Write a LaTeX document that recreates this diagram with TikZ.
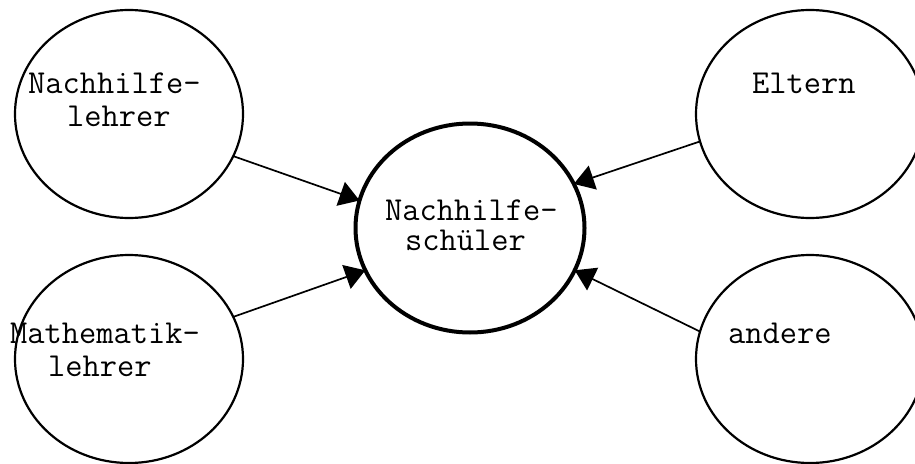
\documentclass[tikz,border=0pt]{standalone}
\usetikzlibrary{shapes.geometric,arrows.meta}
\begin{document}
\begin{tikzpicture}[x=1pt,y=-1pt,
  blob/.style={ellipse,draw,line width=2.2pt,minimum width=228pt,minimum height=208pt,inner sep=0pt,outer sep=0pt},
  hub/.style={blob,line width=4pt,minimum width=229pt,minimum height=209pt},
  word/.style={anchor=base west,inner sep=0pt,text height=21pt,text depth=0pt,font=\ttfamily\fontsize{33.5}{36}\selectfont},
  link/.style={line width=1.7pt,-{Triangle[length=20pt,width=25pt]}}]
  \useasboundingbox (0,0) rectangle (915,463);
  \clip (0,0) rectangle (915,463);

  % circles
  \node[blob] (nl) at (129,114) {};
  \node[blob] (ml) at (129,359) {};
  \node[blob] (el) at (810,114) {};
  \node[blob] (an) at (810,359) {};
  \node[hub]  (ns) at (470,228) {};

  % labels
  \node[word] (t1a) at (28,93)  {Nachhilfe-};
  \node[word] (t1b) at (67,126) {lehrer};
  \node[word] (t2a) at (10,343) {Mathematik-};
  \node[word] (t2b) at (48,376) {lehrer};
  \node[word] (t3)  at (752,93) {Eltern};
  \node[word] (t4)  at (728,343){andere};
  \node[word] (t5a) at (385,220){Nachhilfe-};
  \node[word] (t5b) at (405,250){schüler};

  % arrows into the centre
  \draw[link] (nl.-22)  -- (ns.166);
  \draw[link] (ml.22)   -- (ns.202);
  \draw[link] (el.194)  -- (ns.23);
  \draw[link] (an.166)  -- (ns.-22);
\end{tikzpicture}
\end{document}
